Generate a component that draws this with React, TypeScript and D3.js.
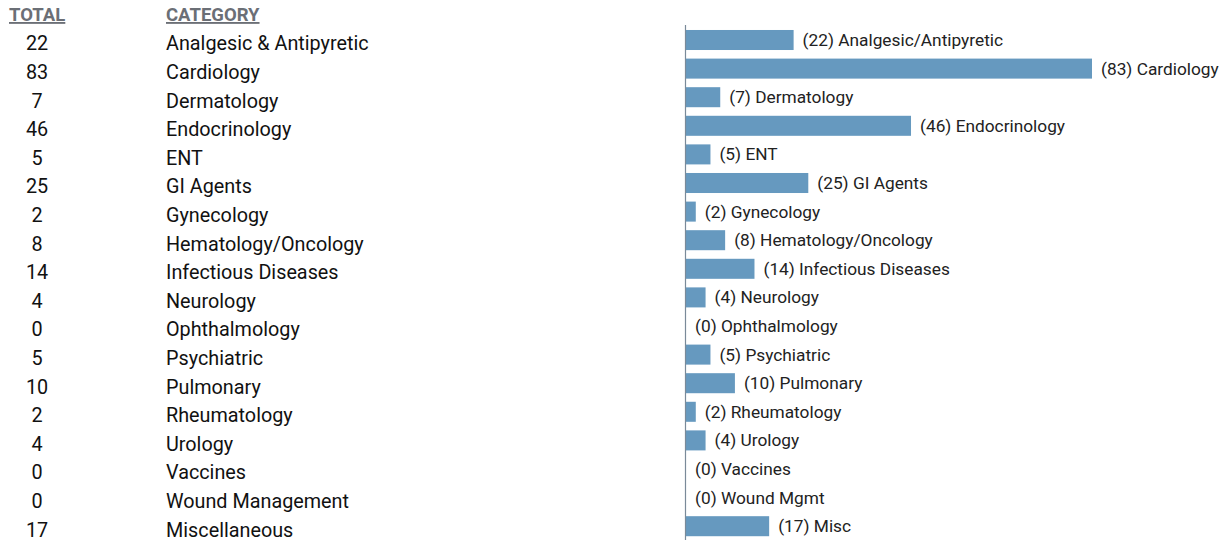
import { useEffect, useRef } from "react";
import * as d3 from "d3";

const categories = [
  "Analgesic & Antipyretic",
  "Cardiology",
  "Dermatology",
  "Endocrinology",
  "ENT",
  "GI Agents",
  "Gynecology",
  "Hematology/Oncology",
  "Infectious Diseases",
  "Neurology",
  "Ophthalmology",
  "Psychiatric",
  "Pulmonary",
  "Rheumatology",
  "Urology",
  "Vaccines",
  "Wound Management",
  "Miscellaneous",
];

const shortLabels = [
  "Analgesic/Antipyretic",
  "Cardiology",
  "Dermatology",
  "Endocrinology",
  "ENT",
  "GI Agents",
  "Gynecology",
  "Hematology/Oncology",
  "Infectious Diseases",
  "Neurology",
  "Ophthalmology",
  "Psychiatric",
  "Pulmonary",
  "Rheumatology",
  "Urology",
  "Vaccines",
  "Wound Mgmt",
  "Misc",
];

const totals = [22, 83, 7, 46, 5, 25, 2, 8, 14, 4, 0, 5, 10, 2, 4, 0, 0, 17];

const W = 1225;
const H = 543;
const FONT = "Roboto, 'Noto Sans', sans-serif";

export default function App() {
  const svgRef = useRef<SVGSVGElement>(null);

  useEffect(() => {
    if (!svgRef.current) return;
    const svg = d3.select(svgRef.current);
    svg.selectAll("*").remove();

    const rows = d3.range(categories.length);

    const y = d3
      .scaleBand<number>()
      .domain(rows)
      .range([25.7, 540.5])
      .paddingInner(0.3)
      .paddingOuter(0.15);

    const x = d3.scaleLinear().domain([0, d3.max(totals) ?? 83]).range([686, 1092]);

    // headers
    const headers = [
      { text: "TOTAL", x: 9 },
      { text: "CATEGORY", x: 166 },
    ];
    svg
      .selectAll("text.hdr")
      .data(headers)
      .join("text")
      .attr("class", "hdr")
      .attr("x", (d) => d.x)
      .attr("y", 21)
      .attr("fill", "#6b6f76")
      .attr("font-family", FONT)
      .attr("font-weight", 700)
      .attr("font-size", 18.5)
      .attr("text-decoration", "underline")
      .text((d) => d.text);

    const rowY = (i: number) => (y(i) ?? 0) + y.bandwidth() / 2;

    // table
    svg
      .selectAll("text.total")
      .data(rows)
      .join("text")
      .attr("class", "total")
      .attr("x", 37)
      .attr("y", (i) => rowY(i) + 3.5)
      .attr("dy", "0.35em")
      .attr("text-anchor", "middle")
      .attr("fill", "#111")
      .attr("font-family", FONT)
      .attr("font-size", 19.8)
      .text((i) => totals[i]);

    svg
      .selectAll("text.cat")
      .data(rows)
      .join("text")
      .attr("class", "cat")
      .attr("x", 166)
      .attr("y", (i) => rowY(i) + 3.5)
      .attr("dy", "0.35em")
      .attr("fill", "#111")
      .attr("font-family", FONT)
      .attr("font-size", 19.8)
      .text((i) => categories[i]);

    // bars
    svg
      .selectAll("rect.bar")
      .data(rows)
      .join("rect")
      .attr("class", "bar")
      .attr("x", x(0))
      .attr("y", (i) => y(i) ?? 0)
      .attr("width", (i) => x(totals[i]) - x(0))
      .attr("height", y.bandwidth())
      .attr("fill", "#6699bf");

    // axis line
    svg
      .append("line")
      .attr("x1", x(0) - 0.5)
      .attr("x2", x(0) - 0.5)
      .attr("y1", 25)
      .attr("y2", 540)
      .attr("stroke", "#7a8a99")
      .attr("stroke-width", 1.2);

    // bar labels
    svg
      .selectAll("text.lbl")
      .data(rows)
      .join("text")
      .attr("class", "lbl")
      .attr("x", (i) => x(totals[i]) + 9)
      .attr("y", (i) => rowY(i))
      .attr("dy", "0.35em")
      .attr("fill", "#222")
      .attr("font-family", FONT)
      .attr("font-size", 17.3)
      .text((i) => `(${totals[i]}) ${shortLabels[i]}`);
  }, []);

  return (
    <svg
      ref={svgRef}
      width={W}
      height={H}
      style={{ position: "absolute", left: 0, top: 0, background: "#fff" }}
    />
  );
}
